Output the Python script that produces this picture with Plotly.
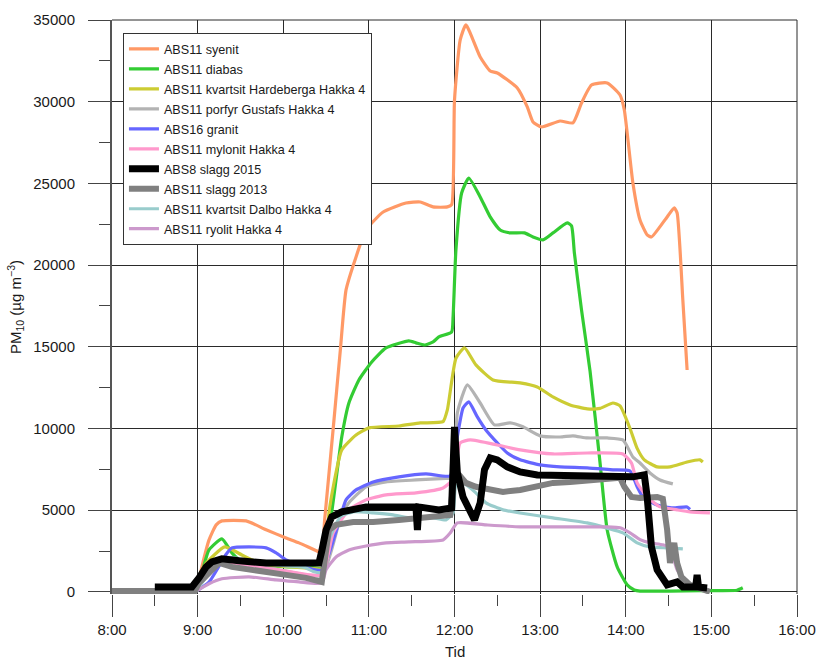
import plotly.graph_objects as go

# Measured PM10 concentrations (µg m^-3) over the test day, per material.
syenit_t = ["8:50", "8:58", "9:01", "9:03", "9:08", "9:13", "9:17", "9:34", "9:48", "10:02", "10:11",
            "10:25", "10:27", "10:29", "10:35", "10:40", "10:44", "10:51", "10:58", "11:10", "11:26",
            "11:36", "11:45", "11:55", "11:58", "12:00", "12:04", "12:08", "12:18", "12:25", "12:30",
            "12:44", "12:51", "12:55", "13:01", "13:14", "13:23", "13:29", "13:36", "13:47", "13:56",
            "13:59", "14:05", "14:10", "14:15", "14:18", "14:29", "14:34", "14:36", "14:40", "14:43"]
syenit_v = [0, 50, 730, 1530, 3180, 4100, 4345, 4345, 3800, 3300, 3000,
            2450, 2400, 4400, 10000, 14800, 18480, 20500, 22150, 23250, 23800,
            23860, 23560, 23560, 23700, 30100, 33780, 34700, 32740, 31880, 31760,
            30840, 29680, 28760, 28450, 28820, 28700, 29920, 31020, 31150, 30410,
            29490, 25030, 22760, 21850, 21720, 22950, 23500, 23190, 17870, 13580]

diabas_t = ["8:55", "9:00", "9:03", "9:08", "9:17", "9:24", "9:31", "9:45", "10:00", "10:20", "10:27",
            "10:34", "10:41", "10:46", "10:53", "11:02", "11:12", "11:28", "11:33", "11:39", "11:45",
            "11:49", "11:58", "11:59", "12:01", "12:05", "12:10", "12:18", "12:25", "12:32", "12:39",
            "12:49", "12:55", "13:02", "13:09", "13:19", "13:22", "13:24", "13:29", "13:35", "13:42",
            "13:47", "13:54", "14:01", "14:06", "14:10", "15:00", "15:18", "15:22"]
diabas_v = [0, 100, 1160, 2570, 3240, 2390, 1840, 1650, 1550, 1500, 1450,
            4900, 9480, 11560, 12970, 14070, 14930, 15360, 15240, 15110, 15300,
            15600, 15910, 16830, 20930, 24410, 25330, 24170, 22950, 22150, 21970,
            21970, 21720, 21540, 21970, 22580, 22400, 20740, 17260, 13500, 7890,
            3790, 1530, 430, 120, 50, 80, 100, 250]

hardeberga_t = ["8:55", "9:06", "9:19", "9:31", "9:38", "9:50", "10:10", "10:25", "10:30", "10:32",
                "10:41", "10:51", "11:00", "11:21", "11:36", "11:52", "11:55", "12:01", "12:07", "12:15",
                "12:27", "12:46", "12:58", "13:09", "13:21", "13:33", "13:42", "13:51", "13:56", "14:03",
                "14:08", "14:13", "14:22", "14:31", "14:43", "14:52", "14:54"]
hardeberga_v = [0, 1750, 2750, 2260, 1960, 1650, 1500, 1400, 1450, 4830,
                8690, 9600, 10035, 10150, 10340, 10420, 11140, 14300, 14930, 13890,
                12970, 12790, 12540, 11930, 11440, 11200, 11230, 11560, 11380, 10000,
                8780, 8080, 7650, 7650, 7950, 8080, 7950]

porfyr_t = ["8:55", "9:03", "9:10", "9:20", "9:35", "10:00", "10:27", "10:40", "10:46", "10:58",
            "11:12", "11:33", "11:54", "11:59", "12:02", "12:09", "12:18", "12:28", "12:39", "12:48",
            "13:00", "13:14", "13:23", "13:33", "13:47", "13:58", "14:05", "14:10", "14:17", "14:24",
            "14:33"]
porfyr_v = [0, 600, 1500, 1850, 1700, 1300, 1000, 4500, 5450, 6430,
            6730, 6850, 6950, 6950, 10950, 12670, 11560, 10220, 10340, 10100,
            9550, 9480, 9550, 9420, 9420, 9300, 8260, 7890, 7280, 6850,
            6610]

granit_t = ["8:58", "9:08", "9:20", "9:24", "9:36", "9:48", "9:55", "10:02", "10:12", "10:27",
            "10:40", "10:44", "10:51", "11:03", "11:21", "11:40", "11:57", "12:01", "12:06", "12:10",
            "12:16", "12:22", "12:30", "12:37", "12:46", "13:00", "13:14", "13:33", "13:51", "14:03",
            "14:08", "14:12", "14:22", "14:33", "14:43", "14:45"]
granit_v = [0, 600, 2300, 2690, 2750, 2690, 2390, 1960, 1600, 1350,
            4590, 5630, 6240, 6730, 7040, 7220, 7100, 9000, 11260, 11630,
            10710, 9910, 9120, 8500, 8080, 7770, 7650, 7590, 7470, 7400,
            6430, 5810, 5320, 5140, 5200, 5050]

mylonit_t = ["8:55", "9:05", "9:15", "9:30", "10:00", "10:27", "10:35", "10:46", "10:58", "11:12",
             "11:33", "11:52", "11:59", "12:04", "12:11", "12:30", "12:46", "13:09", "13:33", "13:58",
             "14:04", "14:08", "14:15", "14:24", "14:36", "14:45", "14:59"]
mylonit_v = [0, 800, 1800, 1700, 1300, 1050, 3610, 5020, 5630, 5940,
             6060, 6360, 6900, 9120, 9300, 8990, 8690, 8440, 8500, 8440,
             7890, 6670, 5810, 5200, 5020, 4900, 4830]

slagg2015_t = ["8:30", "8:56", "9:01", "9:06", "9:10", "9:17", "9:29", "9:48", "10:11", "10:25",
               "10:27", "10:30", "10:34", "10:41", "10:58", "11:21", "11:33", "11:34", "11:35", "11:49",
               "11:58", "12:00", "12:02", "12:06", "12:11", "12:14", "12:18", "12:21", "12:25", "12:30",
               "12:37", "12:46", "12:58", "13:21", "13:44", "14:05", "14:13", "14:15", "14:18", "14:22",
               "14:29", "14:36", "14:40", "14:49", "14:50", "14:51", "14:57"]
slagg2015_v = [300, 300, 860, 1530, 1840, 2020, 1900, 1770, 1770, 1770,
               2500, 3790, 4590, 4900, 5200, 5260, 5200, 3790, 5200, 5020,
               5140, 10100, 7280, 5810, 5020, 4400, 5450, 7470, 8200, 8080,
               7650, 7340, 7160, 7100, 7100, 7040, 7160, 5810, 2750, 1350,
               430, 610, 300, 300, 1040, 300, 240]

slagg2013_t = ["8:00", "8:58", "9:01", "9:08", "9:15", "9:24", "9:36", "9:48", "10:02", "10:16",
               "10:25", "10:27", "10:32", "10:37", "10:49", "11:03", "11:21", "11:33", "11:49", "11:57",
               "12:00", "12:08", "12:15", "12:25", "12:34", "12:46", "12:58", "13:09", "13:21", "13:37",
               "13:56", "13:59", "14:04", "14:10", "14:22", "14:26", "14:29", "14:31", "14:34", "14:36",
               "14:39", "14:45", "14:52", "14:59"]
slagg2013_v = [50, 50, 550, 1220, 1770, 1530, 1350, 1220, 1040, 860,
               650, 610, 3790, 4100, 4280, 4280, 4400, 4500, 4590, 4710,
               7500, 6670, 6430, 6240, 6120, 6240, 6430, 6670, 6730, 6850,
               6980, 6430, 5810, 5750, 5810, 5700, 3790, 1770, 3000, 1770,
               920, 430, 240, 0]

dalbo_t = ["8:38", "8:58", "9:05", "9:15", "9:25", "9:40", "10:00", "10:15", "10:21", "10:27",
           "10:32", "10:40", "10:49", "11:03", "11:17", "11:28", "11:45", "11:54", "11:59", "12:01",
           "12:07", "12:15", "12:22", "12:34", "12:46", "13:09", "13:33", "13:47", "13:58", "14:08",
           "14:17", "14:29", "14:40"]
dalbo_v = [0, 50, 800, 1900, 2100, 1800, 1600, 1500, 1250, 1200,
           3180, 4590, 4900, 4830, 4710, 4530, 4530, 4400, 4830, 6500,
           6600, 6060, 5450, 5020, 4830, 4530, 4220, 3900, 3610, 3000,
           2750, 2690, 2630]

ryolit_t = ["8:58", "9:08", "9:17", "9:36", "9:55", "10:11", "10:27", "10:30", "10:37", "10:46",
            "10:58", "11:12", "11:28", "11:52", "11:57", "12:02", "12:22", "12:46", "13:09", "13:33",
            "13:47", "13:56", "14:03", "14:10", "14:17", "14:26", "14:31", "14:36", "14:43"]
ryolit_v = [0, 500, 800, 920, 730, 610, 550, 1350, 2140, 2570,
            2810, 3000, 3060, 3180, 3610, 4220, 4100, 3980, 3980, 3980,
            3980, 3920, 3610, 3200, 3000, 2880, 2700, 1350, 500]

x_tick_labels = ["8:00", "9:00", "10:00", "11:00", "12:00", "13:00", "14:00", "15:00", "16:00"]
y_tick_values = [0, 5000, 10000, 15000, 20000, 25000, 30000, 35000]


def to_hours(times):
    out = []
    for t in times:
        h, m = t.split(":")
        out.append(int(h) + int(m) / 60.0)
    return out


# (name, times, values, colour, width, spline?)  -- listed in legend order
series = [
    ("ABS11 syenit", syenit_t, syenit_v, "#FF9966", 3.2, True),
    ("ABS11 diabas", diabas_t, diabas_v, "#33CC33", 3.2, True),
    ("ABS11 kvartsit Hardeberga Hakka 4", hardeberga_t, hardeberga_v, "#CCCC33", 3.2, True),
    ("ABS11 porfyr Gustafs Hakka 4", porfyr_t, porfyr_v, "#B3B3B3", 3.2, True),
    ("ABS16 granit", granit_t, granit_v, "#6666FF", 3.2, True),
    ("ABS11 mylonit Hakka 4", mylonit_t, mylonit_v, "#FF99CC", 3.2, True),
    ("ABS8 slagg 2015", slagg2015_t, slagg2015_v, "#000000", 7, False),
    ("ABS11 slagg 2013", slagg2013_t, slagg2013_v, "#808080", 6, False),
    ("ABS11 kvartsit Dalbo Hakka 4", dalbo_t, dalbo_v, "#99CCCC", 3.2, True),
    ("ABS11 ryolit Hakka 4", ryolit_t, ryolit_v, "#CC99CC", 3.2, True),
]

# black slag line is drawn last so it sits on top of the others
draw_order = [0, 1, 2, 3, 4, 5, 8, 9, 7, 6]

fig = go.Figure()
for i in draw_order:
    name, t, v, col, w, smooth = series[i]
    line = dict(color=col, width=w)
    if smooth:
        line.update(shape="spline", smoothing=0.5)
    fig.add_trace(go.Scatter(
        x=to_hours(t), y=v, mode="lines", name=name, line=line,
        legendgroup=name, legendrank=i + 1,
    ))

font_family = "Arial, 'Liberation Sans', Helvetica, sans-serif"
grid_col = "#2a2a2a"
tick_col = "#444444"

fig.update_layout(
    width=820, height=660,
    margin=dict(l=112, r=23, t=20, b=66),
    paper_bgcolor="white", plot_bgcolor="white",
    font=dict(family=font_family, size=15, color="#1a1a1a"),
    showlegend=True,
    legend=dict(
        x=0.016, y=0.977, xanchor="left", yanchor="top",
        bgcolor="white", bordercolor="#333333", borderwidth=1,
        font=dict(size=12.6, color="#1a1a1a"),
        traceorder="grouped", tracegroupgap=0.6,
    ),
    xaxis=dict(
        range=[8, 16],
        automargin=False,
        tickmode="array",
        tickvals=to_hours(x_tick_labels),
        ticktext=x_tick_labels,
        ticks="outside", ticklen=22, tickwidth=1.3, tickcolor=tick_col,
        ticklabelstandoff=0,
        showgrid=True, gridcolor=grid_col, gridwidth=1,
        zeroline=False, showline=False,
        minor=dict(ticks="outside", ticklen=11, tickwidth=1.3, tickcolor=tick_col,
                   dtick=0.5, tick0=8, showgrid=False),
    ),
    yaxis=dict(
        range=[-130, 35000],
        automargin=False,
        tickmode="array",
        tickvals=y_tick_values,
        ticktext=[str(v) for v in y_tick_values],
        ticks="outside", ticklen=22, tickwidth=1.3, tickcolor=tick_col,
        ticklabelstandoff=10,
        showgrid=True, gridcolor=grid_col, gridwidth=1,
        zeroline=False,
        showline=True, linecolor="#555555", linewidth=2,
        minor=dict(ticks="outside", ticklen=11, tickwidth=1.3, tickcolor=tick_col,
                   dtick=2500, tick0=0, showgrid=False),
        title=dict(text="PM<sub>10</sub> (µg m<sup>−3</sup>)", standoff=8, font=dict(size=15)),
    ),
    annotations=[
        dict(text="Tid", xref="paper", yref="paper", x=0.5, y=-0.1,
             xanchor="center", yanchor="middle", showarrow=False,
             font=dict(size=15, color="#1a1a1a")),
    ],
    shapes=[
        dict(type="line", xref="paper", yref="paper", x0=0, x1=1, y0=1, y1=1,
             line=dict(color=grid_col, width=1), layer="below"),
        dict(type="line", xref="paper", yref="paper", x0=1, x1=1, y0=0, y1=1,
             line=dict(color=grid_col, width=1), layer="below"),
    ],
)

fig.write_html("out.html")
